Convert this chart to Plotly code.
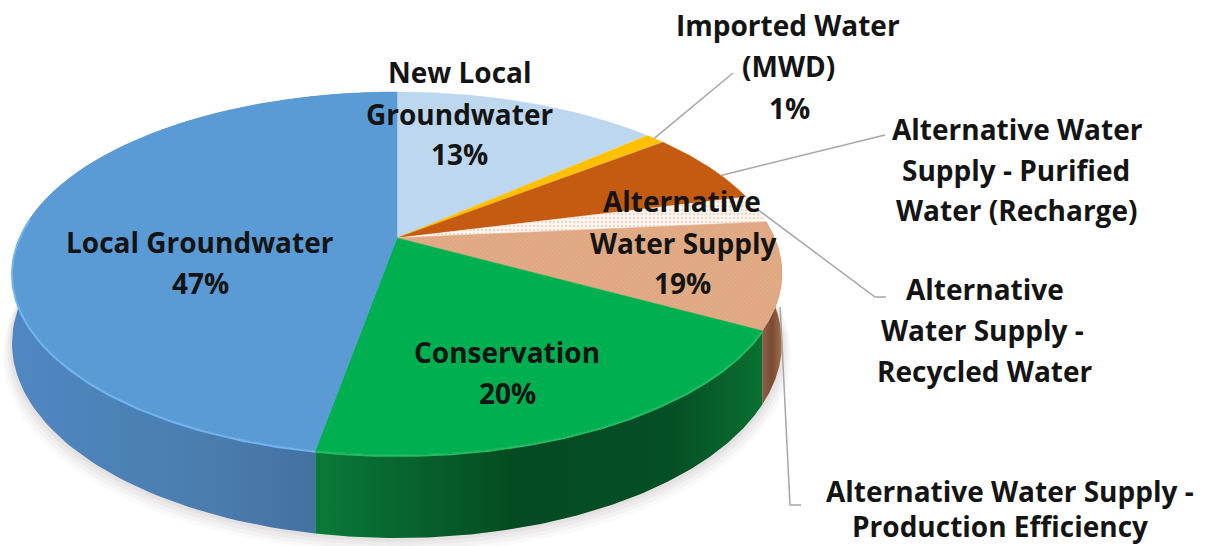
import numpy as np
import plotly.graph_objects as go

# Slice data (percent), clockwise from 12 o'clock
slice_names = ["New Local Groundwater", "Imported Water (MWD)", "Purified Water (Recharge)",
               "Recycled Water", "Production Efficiency", "Conservation", "Local Groundwater"]
slice_values = [13.4, 1, 6.6, 2.5, 9.5, 19.8, 47.2]
top_colors = ["#bdd7ee", "#ffc000", "#c55a11", "#f8f0e8", "#e0a880", "#00b050", "#5b9bd5"]

label_lines = ["New Local", "Groundwater", "13%",
               "Imported Water", "(MWD)", "1%",
               "Alternative Water", "Supply - Purified", "Water (Recharge)",
               "Alternative", "Water Supply", "19%",
               "Alternative", "Water Supply -", "Recycled Water",
               "Alternative Water Supply -", "Production Efficiency",
               "Conservation", "20%",
               "Local Groundwater", "47%"]
label_x = [460, 459, 459, 788, 788, 789, 1017, 1016, 1016, 682, 683, 682, 985, 982, 985, 1010, 1000, 507, 507, 200, 200]
label_y = [72, 114, 154, 25, 66, 108, 129, 170, 210, 201, 243, 283, 289, 330, 371, 491, 526, 352, 393, 242, 283]

# Projection of the tilted disc (camera geometry, in page pixels)
CX, CY, A, B, K, DEPTH = 397, 238, 377.6, 174.5, 0.195, 67


def project(t_deg, drop=0.0):
    t = np.radians(t_deg)
    u, v = np.sin(t), np.cos(t)
    w = 1 + K * v
    return CX + A * u / w, CY - B * v / w + drop / w


def arc(p0, p1, drop=0.0, n=120):
    return project(np.linspace(p0, p1, n) * 3.6, drop)


edges = np.concatenate([[0], np.cumsum(slice_values)])
fig = go.Figure()

# soft shadow under the disc
for grow, alpha in [(12, 0.03), (9, 0.04), (6, 0.05), (3, 0.06)]:
    x, y = project(np.linspace(60, 300, 240), DEPTH + grow)
    fig.add_trace(go.Scatter(x=(x + (x - CX) * grow * 0.002), y=y, mode="lines", fill="toself",
                             fillcolor=f"rgba(90,80,80,{alpha})", line=dict(width=0), hoverinfo="skip"))

# side walls (front of the disc)
side_scales = {
    4: [[0, "#8f5f45"], [0.5, "#7a4c34"], [1, "#a56f4e"]],
    5: [[0, "#0a7a38"], [0.45, "#044a22"], [0.8, "#054f26"], [1, "#0a7030"]],
    6: [[0, "#5087c2"], [0.5, "#4a7dae"], [1, "#3f6a98"]],
}
for i, scale in side_scales.items():
    x1, y1 = arc(edges[i], edges[i + 1], 0)
    x2, y2 = arc(edges[i], edges[i + 1], DEPTH)
    fig.add_trace(go.Scatter(x=np.r_[x1, x2[::-1]], y=np.r_[y1, y2[::-1]], mode="lines", fill="toself",
                             line=dict(width=0), hoverinfo="skip",
                             fillgradient=dict(type="horizontal", colorscale=scale)))

# top faces
patterns = {
    3: dict(shape=".", bgcolor="#fbf6f0", fgcolor="#d9bda4", size=4, solidity=0.35),
    4: dict(shape="/", bgcolor="#e2ac86", fgcolor="#d49a72", size=3, solidity=0.3),
}
for i, col in enumerate(top_colors):
    x, y = arc(edges[i], edges[i + 1])
    kw = dict(fillpattern=patterns[i]) if i in patterns else {}
    fig.add_trace(go.Scatter(x=np.r_[CX, x, CX], y=np.r_[CY, y, CY], mode="lines", fill="toself",
                             fillcolor=col, line=dict(width=0.5, color=col), hoverinfo="skip", **kw))

# bevel highlight along the front rim
for i, col in [(5, "#22bf62"), (6, "#70b4f0")]:
    stop = edges[i + 1] if i == 5 else edges[i] + 24
    x, y = arc(edges[i], stop, 1)
    fig.add_trace(go.Scatter(x=x, y=y, mode="lines", line=dict(color=col, width=2), hoverinfo="skip"))

# leader lines: start on the rim of each slice, end at its label
leader_targets = {1: [(733, 73)], 2: [(885, 135)], 3: [(875, 297), (886, 297)]}
leader_shift = {1: 0, 2: 3.6, 3: 0}
for i, pts in leader_targets.items():
    x0, y0 = project((edges[i] + edges[i + 1]) * 1.8 + leader_shift[i])
    xs = [float(x0)] + [p[0] for p in pts]
    ys = [float(y0)] + [p[1] for p in pts]
    fig.add_trace(go.Scatter(x=xs, y=ys, mode="lines", line=dict(color="#a6a6a6", width=1.5), hoverinfo="skip"))
x0, y0 = project((edges[4] + edges[5]) * 1.8 - 6, DEPTH * 0.75)
fig.add_trace(go.Scatter(x=[float(x0), 790, 801], y=[float(y0), 505, 505], mode="lines",
                         line=dict(color="#a6a6a6", width=1.5), hoverinfo="skip"))

for text, x, y in zip(label_lines, label_x, label_y):
    fig.add_annotation(x=x, y=y, text=text, showarrow=False, xanchor="center", yanchor="middle",
                       font=dict(family="Open Sans", size=28, color="#141414", weight=700))

fig.update_layout(width=1205, height=546, margin=dict(l=0, r=0, t=0, b=0), showlegend=False,
                  paper_bgcolor="white", plot_bgcolor="white",
                  xaxis=dict(range=[0, 1205], visible=False, fixedrange=True),
                  yaxis=dict(range=[546, 0], visible=False, fixedrange=True))
fig.write_html("out.html", config=dict(displayModeBar=False),
               post_script="document.body.style.margin='0';document.documentElement.style.overflow='hidden';")
